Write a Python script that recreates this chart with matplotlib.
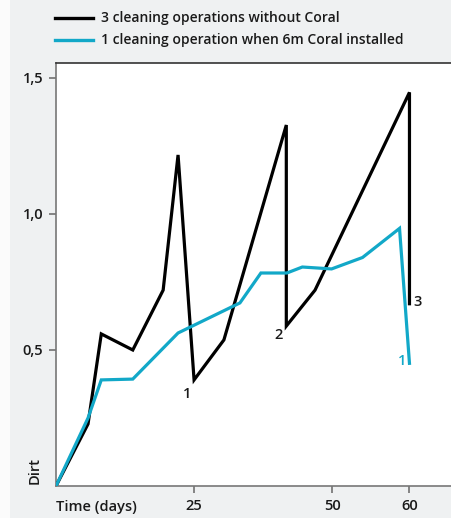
import matplotlib.pyplot as plt
from matplotlib.lines import Line2D
from matplotlib.patches import Rectangle

# ── data ──
black_x = [0, 5.8, 8.2, 13.9, 19.4, 22.1, 25.0, 30.4, 41.7, 41.7, 46.9, 64.0, 64.0]
black_y = [0, 0.228, 0.559, 0.50, 0.72, 1.217, 0.39, 0.537, 1.327, 0.588, 0.72, 1.447, 0.67]

cyan_x = [0, 5.8, 8.2, 13.9, 22.1, 33.3, 37.1, 41.8, 44.6, 49.9, 55.5, 62.2, 64.0]
cyan_y = [0, 0.25, 0.39, 0.393, 0.5625, 0.673, 0.783, 0.783, 0.805, 0.798, 0.84, 0.947, 0.451]

x_ticks = [25, 50, 64]
x_tick_labels = ["25", "50", "60"]
y_ticks = [0.5, 1.0, 1.5]
y_tick_labels = ["0,5", "1,0", "1,5"]

legend_labels = ["3 cleaning operations without Coral",
                 "1 cleaning operation when 6m Coral installed"]

BLACK = "#000000"
CYAN = "#12a8c8"
TEXT = "#1a1a1a"
FONT = "Open Sans"

W, H = 452, 518
fig = plt.figure(figsize=(W / 100, H / 100), dpi=100, facecolor="#eff1f2")
fig.patches.append(Rectangle((0, 0), 10 / W, 1, transform=fig.transFigure,
                             facecolor="#fbfbfb", edgecolor="none", zorder=0))

ax = fig.add_axes([56 / W, 32 / H, 1 - 56 / W, (486 - 63) / H])
ax.set_facecolor("white")

ax.plot(black_x, black_y, color=BLACK, lw=2.3, solid_joinstyle="miter", zorder=3)
ax.plot(cyan_x, cyan_y, color=CYAN, lw=2.3, solid_joinstyle="miter", zorder=4)

ax.set_xlim(0, 71.7)
ax.set_ylim(0, 1.555)

ax.set_xticks(x_ticks)
ax.set_xticklabels(x_tick_labels)
ax.set_yticks(y_ticks)
ax.set_yticklabels(y_tick_labels)
ax.tick_params(axis="both", direction="out", length=5, width=1.1, color="#666666",
               labelsize=10.5, labelcolor=TEXT, pad=4)
for lab in ax.get_xticklabels() + ax.get_yticklabels():
    lab.set_fontfamily(FONT)
    lab.set_fontweight("semibold")

for side in ["left", "bottom"]:
    ax.spines[side].set_color("#777777")
    ax.spines[side].set_linewidth(1.2)
ax.spines["top"].set_color("#333333")
ax.spines["top"].set_linewidth(1.2)
ax.spines["right"].set_visible(False)

# point labels
lab_kw = dict(fontsize=10.5, fontfamily=FONT, fontweight="semibold",
              ha="center", va="center")
ax.text(23.8, 0.34, "1", color=TEXT, **lab_kw)
ax.text(40.3, 0.555, "2", color=TEXT, **lab_kw)
ax.text(65.5, 0.675, "3", color=TEXT, **lab_kw)
ax.text(62.7, 0.46, "1", color=CYAN, **lab_kw)

# axis titles
fig.text(56 / W, 1 - 507 / H, "Time (days)", fontsize=10.5, fontfamily=FONT,
         fontweight="semibold", color=TEXT, ha="left", va="center")
fig.text(35 / W, 1 - 470 / H, "Dirt", fontsize=10.5, fontfamily=FONT,
         fontweight="semibold", color=TEXT, ha="center", va="center", rotation=90)

# legend drawn by hand above the axes
for i, (lbl, col) in enumerate(zip(legend_labels, [BLACK, CYAN])):
    yy = 1 - (18 + 22 * i) / H
    fig.add_artist(Line2D([55 / W, 93 / W], [yy, yy], color=col, lw=2.4,
                          transform=fig.transFigure))
    fig.text(101 / W, yy, lbl, fontsize=10, fontfamily=FONT, fontweight="semibold",
             color=TEXT, ha="left", va="center")

fig.savefig("out.png", dpi=100, facecolor=fig.get_facecolor())
